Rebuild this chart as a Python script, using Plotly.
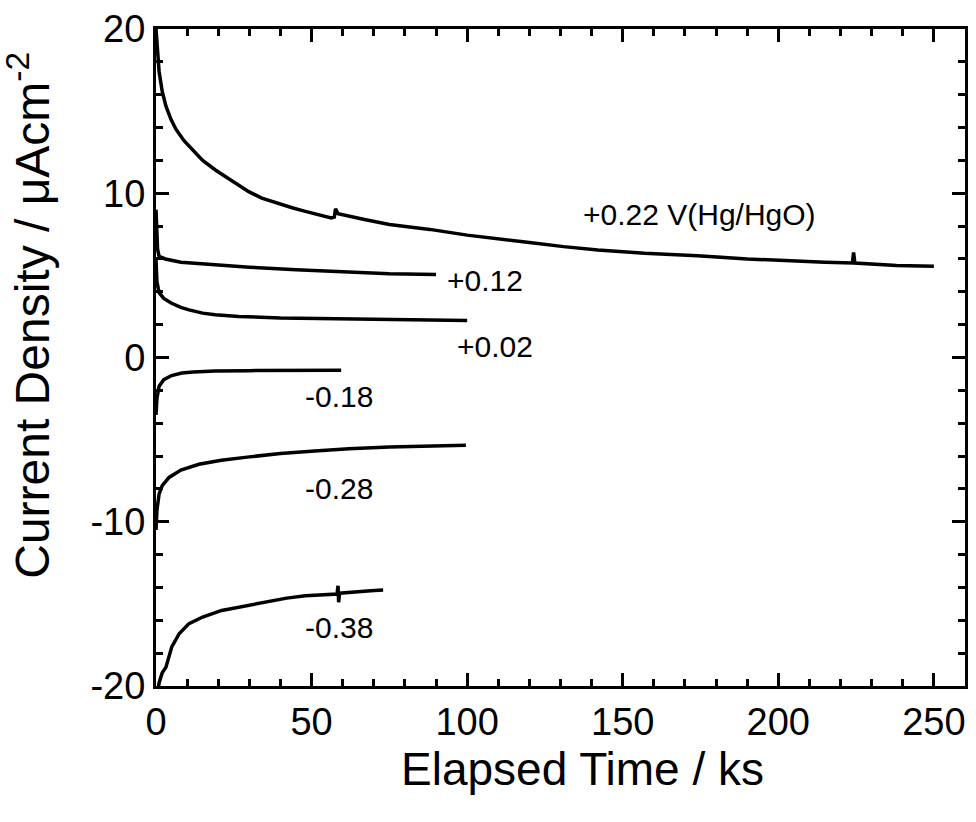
import plotly.graph_objects as go

# ---- data (elapsed time in ks, current density in uA/cm^2) ----
t_p022 = [0, 0.4, 1, 2, 3.2, 4.8, 6.4, 9, 11.5, 15, 19.2, 24, 29.8, 34, 39.4, 44, 48, 52, 56.3, 57.3, 57.7, 58.5,
          62, 67, 75, 88, 100, 110, 120, 131, 142, 157, 174, 190, 206, 215, 223.8, 224.2, 224.6, 230, 238, 250]
j_p022 = [20, 18.8, 17.4, 16.2, 15.3, 14.5, 13.9, 13.2, 12.7, 12.0, 11.4, 10.8, 10.1, 9.7, 9.35, 9.1, 8.9, 8.7, 8.5, 8.55, 9.05, 8.75,
          8.6, 8.4, 8.1, 7.8, 7.45, 7.2, 7.0, 6.75, 6.55, 6.35, 6.2, 6.0, 5.85, 5.8, 5.75, 6.4, 5.75, 5.7, 5.6, 5.55]

t_p012 = [0, 0.2, 0.5, 1, 3, 8, 15, 30, 45, 62, 75, 90]
j_p012 = [9.0, 7.4, 6.6, 6.15, 6.0, 5.8, 5.7, 5.5, 5.35, 5.2, 5.1, 5.05]

t_p002 = [0, 0.3, 1, 2.5, 5, 8, 10.6, 15, 19, 26.6, 40, 55, 72, 88, 100]
j_p002 = [6.0, 4.6, 3.95, 3.6, 3.3, 3.05, 2.9, 2.7, 2.6, 2.5, 2.4, 2.35, 2.3, 2.28, 2.26]

t_m018 = [0, 0.3, 1, 2.5, 5, 8.3, 12, 19, 30, 40, 50, 59.5]
j_m018 = [-3.5, -2.5, -1.75, -1.35, -1.1, -0.95, -0.88, -0.82, -0.8, -0.8, -0.78, -0.78]

t_m028 = [0, 0.3, 1, 2, 4.2, 8, 13.8, 21, 30, 40, 51, 62, 75, 88, 99.6]
j_m028 = [-10.5, -9.3, -8.3, -7.8, -7.3, -6.85, -6.5, -6.25, -6.05, -5.85, -5.7, -5.55, -5.45, -5.38, -5.35]

t_m038 = [0.5, 1, 2, 3.2, 5.1, 7.5, 10.6, 15, 21.1, 26.6, 32, 37.1, 42, 48, 53.1, 58.2, 58.5, 58.7, 59, 64, 69, 73]
j_m038 = [-20.5, -19.8, -19.2, -18.85, -17.6, -16.8, -16.2, -15.8, -15.4, -15.2, -15.0, -14.8, -14.65, -14.5, -14.45, -14.4, -13.9, -14.9, -14.35, -14.25, -14.2, -14.15]

series = [
    (t_p022, j_p022), (t_p012, j_p012), (t_p002, j_p002),
    (t_m018, j_m018), (t_m028, j_m028), (t_m038, j_m038),
]

label_text = ["+0.22 V(Hg/HgO)", "+0.12", "+0.02", "-0.18", "-0.28", "-0.38"]
label_x = [174.8, 105.6, 108.8, 58.9, 58.9, 58.9]
label_y = [8.72, 4.68, 0.69, -2.38, -8.0, -16.44]

x_ticks = [0, 50, 100, 150, 200, 250]
x_ticktext = ["0", "50", "100", "150", "200", "250"]
y_ticks = [-20, -10, 0, 10, 20]
y_ticktext = ["-20", "-10", "0", "10", "20"]
x_minor_step = 10
y_minor_step = 2

x_title = "Elapsed Time / ks"
y_title = "Current Density / μAcm<sup>-2</sup>"

x_range = [0, 260]
y_range = [-20, 20]

FONT = "Liberation Sans, Arial, Helvetica, sans-serif"

fig = go.Figure()
for t, j in series:
    fig.add_trace(go.Scatter(x=t, y=j, mode="lines",
                             line=dict(color="black", width=3.5),
                             showlegend=False, hoverinfo="skip"))
# empty trace so that the overlay (minor-tick) axes are drawn
fig.add_trace(go.Scatter(x=[None], y=[None], xaxis="x2", yaxis="y2", mode="lines",
                         showlegend=False, hoverinfo="skip"))

for txt, lx, ly in zip(label_text, label_x, label_y):
    fig.add_annotation(x=lx, y=ly, xref="x", yref="y", text=txt, showarrow=False,
                       xanchor="center", yanchor="middle",
                       font=dict(family=FONT, size=30, color="black"))

# axis titles as annotations (positioned like the reference)
fig.add_annotation(x=0.527, y=-0.127, xref="paper", yref="paper", text=x_title, showarrow=False,
                   xanchor="center", yanchor="middle",
                   font=dict(family=FONT, size=46, color="black"))
fig.add_annotation(x=-0.157, y=0.565, xref="paper", yref="paper", text=y_title, showarrow=False,
                   textangle=-90, xanchor="center", yanchor="middle",
                   font=dict(family=FONT, size=48, color="black"))

major = dict(showline=True, linewidth=3, linecolor="black", mirror="ticks",
             ticks="inside", ticklen=13, tickwidth=3, tickcolor="black",
             tickfont=dict(family=FONT, size=38, color="black"),
             showgrid=False, zeroline=False)
minor_ax = dict(showline=True, linewidth=3, linecolor="black", mirror="ticks",
                ticks="inside", ticklen=7, tickwidth=3, tickcolor="black",
                showticklabels=False, showgrid=False, zeroline=False)

fig.update_layout(
    width=976, height=822,
    margin=dict(l=156, r=8, t=23, b=136),
    paper_bgcolor="white", plot_bgcolor="white",
    xaxis=dict(range=x_range, tickmode="array", tickvals=x_ticks, ticktext=x_ticktext, **major),
    yaxis=dict(range=y_range, tickmode="array", tickvals=y_ticks, ticktext=y_ticktext, **major),
    xaxis2=dict(range=x_range, overlaying="x", anchor="y", side="bottom",
                tickmode="linear", tick0=0, dtick=x_minor_step, **minor_ax),
    yaxis2=dict(range=y_range, overlaying="y", anchor="x", side="left",
                tickmode="linear", tick0=0, dtick=y_minor_step, **minor_ax),
)

fig.write_html("out.html")
